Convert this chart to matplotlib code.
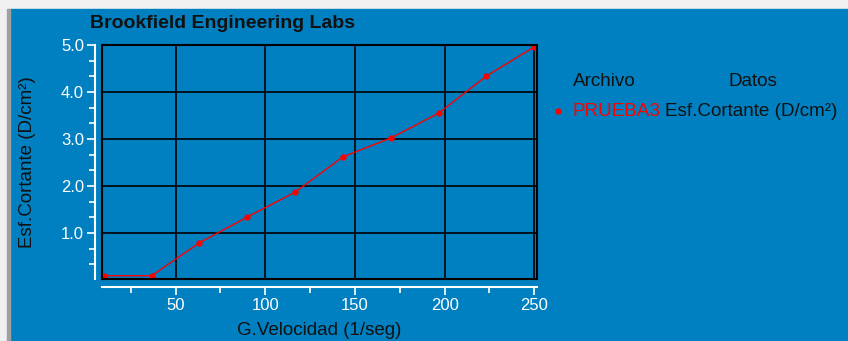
import matplotlib.pyplot as plt
from matplotlib.patches import Rectangle
from matplotlib.ticker import MultipleLocator

plt.rcParams['font.family'] = ['Liberation Sans', 'DejaVu Sans']

# shear rate (1/seg) and shear stress (D/cm²)
velocidad = [10, 36.7, 63.3, 90, 116.7, 143.3, 170, 196.7, 223.3, 250]
cortante = [0.09, 0.09, 0.79, 1.34, 1.87, 2.62, 3.02, 3.55, 4.34, 4.96]

archivo = 'PRUEBA3'
datos = 'Esf.Cortante (D/cm²)'

W, H = 848, 341
fig = plt.figure(figsize=(W / 100, H / 100), dpi=100, facecolor='#f0f0f0')

# blue panel and frame edge
fig.patches.append(Rectangle((10 / W, 0), 1 - 10 / W, 1 - 9 / H,
                             transform=fig.transFigure, color='#0080c0', zorder=-2))
fig.patches.append(Rectangle((7 / W, 0), 3 / W, 1 - 9 / H,
                             transform=fig.transFigure, color='#a0a0a0', zorder=-2))

ax = fig.add_axes([102 / W, 1 - 279 / H, (537 - 102) / W, (279 - 45) / H])
ax.set_facecolor('#0080c0')

ax.plot(velocidad, cortante, color='red', lw=1, marker='o', ms=3.5, zorder=3,
        clip_on=False)

ax.set_xlim(9, 251.5)
ax.set_ylim(0.02, 5.0)

ax.xaxis.set_minor_locator(MultipleLocator(25))
ax.yaxis.set_minor_locator(MultipleLocator(1 / 3))
ax.set_xticks([50, 100, 150, 200, 250])
ax.set_yticks([1, 2, 3, 4, 5])
ax.set_yticklabels(['1.0', '2.0', '3.0', '4.0', '5.0'])
ax.grid(True, which='major', color='black', lw=1.2)

# white axis lines offset from the plot frame
ax.spines['left'].set_position(('outward', 5))
ax.spines['bottom'].set_position(('outward', 6))
ax.spines['top'].set_visible(False)
ax.spines['right'].set_visible(False)
for s in ('left', 'bottom'):
    ax.spines[s].set_color('white')
    ax.spines[s].set_linewidth(1.5)
ax.add_patch(Rectangle((0, 0), 1, 1, transform=ax.transAxes, fill=False,
                       ec='black', lw=1.5, zorder=4, clip_on=False))

ax.tick_params(which='both', colors='white', direction='out', labelsize=12)
ax.tick_params(which='major', length=6, width=1.2, pad=2)
ax.tick_params(which='minor', length=4, width=1.2)

ax.set_xlabel('G.Velocidad (1/seg)', fontsize=13.5, color='#111111', labelpad=6)
ax.set_ylabel('Esf.Cortante (D/cm²)', fontsize=13.5, color='#111111', labelpad=18)

fig.text(90 / W, 1 - 23 / H, 'Brookfield Engineering Labs', fontsize=14,
         fontweight='bold', color='#111111', va='center', ha='left')

# legend table
fig.text(573 / W, 1 - 82 / H, 'Archivo', fontsize=13.6, color='#111111', va='center')
fig.text(728 / W, 1 - 82 / H, 'Datos', fontsize=13.6, color='#111111', va='center')
fig.text(573 / W, 1 - 112 / H, archivo, fontsize=13.6, color='red', va='center')
fig.text(665 / W, 1 - 112 / H, datos, fontsize=13.6, color='#111111', va='center')
fig.lines.append(plt.Line2D([558 / W], [1 - 111 / H], transform=fig.transFigure,
                            marker='o', ms=3.5, color='red'))

fig.savefig('out.png', dpi=100, facecolor=fig.get_facecolor())
